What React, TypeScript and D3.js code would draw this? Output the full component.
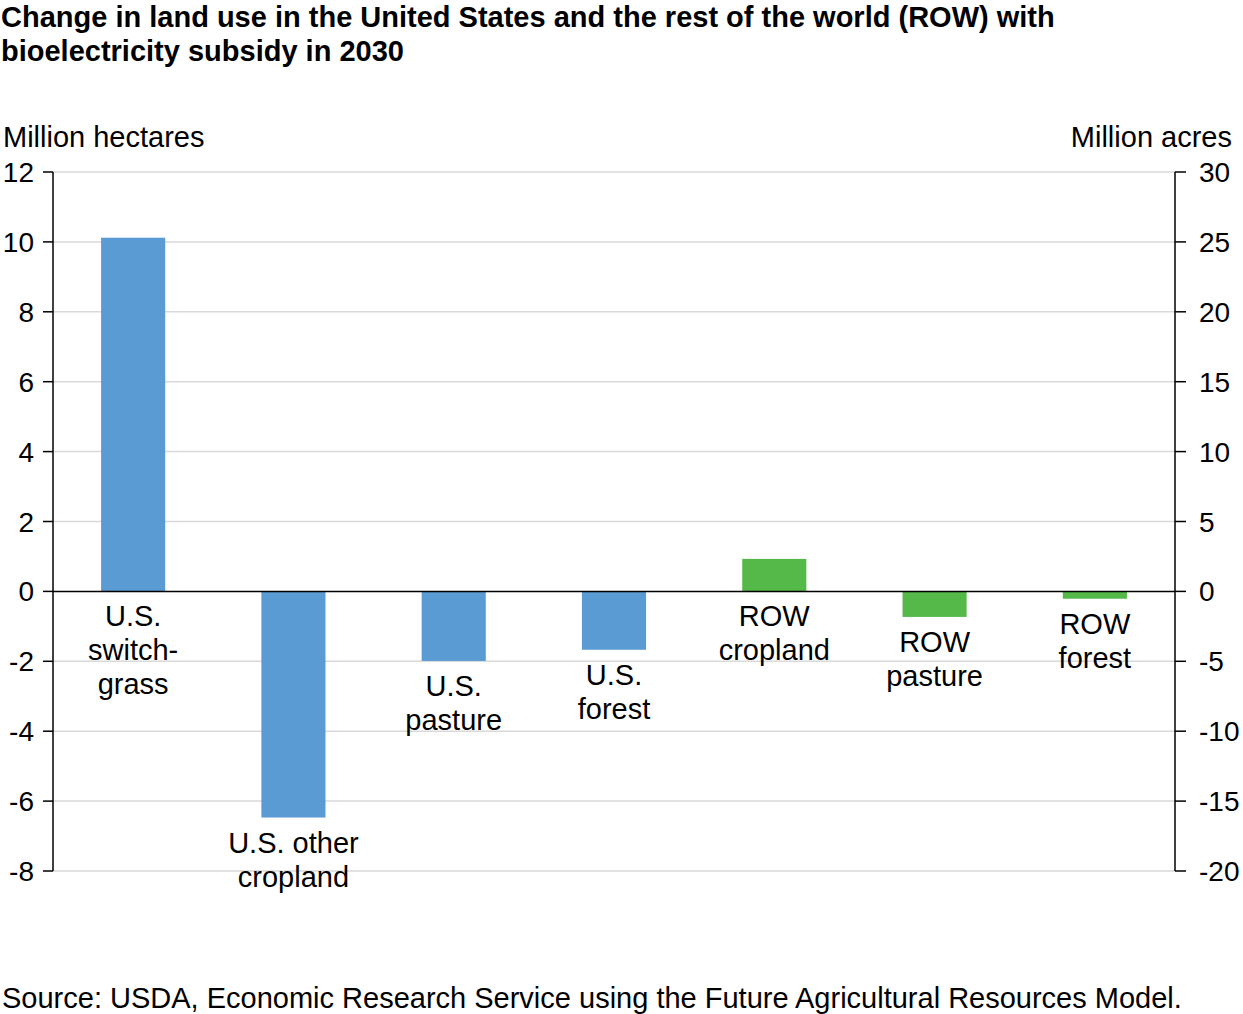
import React from "react";
import * as d3 from "d3";

const categories = [
  ["U.S.", "switch-", "grass"],
  ["U.S. other", "cropland"],
  ["U.S.", "pasture"],
  ["U.S.", "forest"],
  ["ROW", "cropland"],
  ["ROW", "pasture"],
  ["ROW", "forest"],
];
const values = [10.12, -6.47, -1.99, -1.67, 0.93, -0.73, -0.21];
const regions = ["US", "US", "US", "US", "ROW", "ROW", "ROW"];
const leftTicks = [12, 10, 8, 6, 4, 2, 0, -2, -4, -6, -8];
const rightTicks = [30, 25, 20, 15, 10, 5, 0, -5, -10, -15, -20];
const colors: Record<string, string> = { US: "#5b9bd3", ROW: "#54b948" };

const W = 1243;
const H = 1014;
const x0 = 53;
const x1 = 1175;
const yTop = 172;
const yBot = 871;
const font = "Liberation Sans, Arial, Helvetica, sans-serif";

export default function App() {
  const x = d3
    .scaleBand<number>()
    .domain(d3.range(values.length))
    .range([x0, x1])
    .paddingInner(0.6)
    .paddingOuter(0.3);
  const y = d3.scaleLinear().domain([-8, 12]).range([yBot, yTop]);
  const y2 = d3.scaleLinear().domain([-20, 30]).range([yBot, yTop]);
  const lh = 34;

  return (
    <svg
      width={W}
      height={H}
      style={{ position: "absolute", left: 0, top: 0, background: "#fff" }}
      fontFamily={font}
    >
      <text x={1} y={27} fontSize={29} fontWeight="bold" fill="#000">
        Change in land use in the United States and the rest of the world (ROW) with
      </text>
      <text x={1} y={61} fontSize={29} fontWeight="bold" fill="#000">
        bioelectricity subsidy in 2030
      </text>
      <text x={3} y={147} fontSize={29} fill="#000">
        Million hectares
      </text>
      <text x={1232} y={147} fontSize={29} fill="#000" textAnchor="end">
        Million acres
      </text>

      {leftTicks.map((t) => (
        <g key={"g" + t}>
          {t !== 0 && (
            <line x1={x0} x2={x1} y1={y(t)} y2={y(t)} stroke="#d9d9d9" strokeWidth={1.5} />
          )}
          <line x1={x0 - 10} x2={x0} y1={y(t)} y2={y(t)} stroke="#000" strokeWidth={1.5} />
          <text x={34} y={y(t) + 10} fontSize={28} textAnchor="end" fill="#000">
            {t}
          </text>
        </g>
      ))}
      {rightTicks.map((t) => (
        <g key={"r" + t}>
          <line x1={x1} x2={x1 + 11} y1={y2(t)} y2={y2(t)} stroke="#000" strokeWidth={1.5} />
          <text x={1199} y={y2(t) + 10} fontSize={28} textAnchor="start" fill="#000">
            {t}
          </text>
        </g>
      ))}
      <line x1={x0} x2={x0} y1={yTop} y2={yBot} stroke="#000" strokeWidth={1.5} />
      <line x1={x1} x2={x1} y1={yTop} y2={yBot} stroke="#000" strokeWidth={1.5} />

      {values.map((v, i) => (
        <rect
          key={"b" + i}
          x={x(i)}
          width={x.bandwidth()}
          y={y(Math.max(0, v))}
          height={Math.abs(y(v) - y(0))}
          fill={colors[regions[i]]}
        />
      ))}
      <line x1={x0} x2={x1} y1={y(0)} y2={y(0)} stroke="#000" strokeWidth={1.5} />

      {values.map((v, i) => {
        const base = y(Math.min(0, v)) + 35;
        const cx = (x(i) as number) + x.bandwidth() / 2;
        return (
          <text key={"l" + i} x={cx} y={base} fontSize={29} textAnchor="middle" fill="#000">
            {categories[i].map((s, j) => (
              <tspan key={j} x={cx} y={base + j * lh}>
                {s}
              </tspan>
            ))}
          </text>
        );
      })}

      <text x={2} y={1008} fontSize={29} fill="#000">
        Source: USDA, Economic Research Service using the Future Agricultural Resources Model.
      </text>
    </svg>
  );
}
